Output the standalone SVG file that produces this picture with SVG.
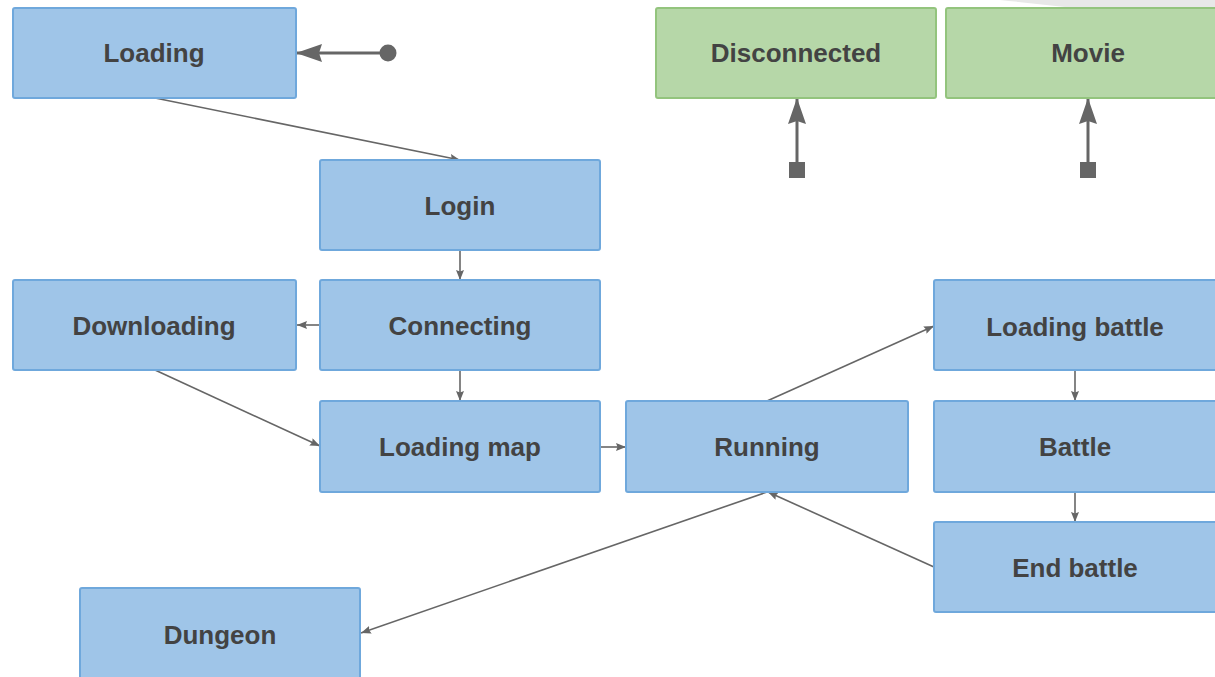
<svg xmlns="http://www.w3.org/2000/svg" width="1215" height="677" viewBox="0 0 1215 677">
  <style>
    .state rect { fill: #9fc5e8; stroke: #6fa8dc; stroke-width: 2; }
    .alt rect { fill: #b6d7a8; stroke: #93c47d; stroke-width: 2; }
    text { font-family: "Liberation Sans", Arial, sans-serif; font-weight: bold; font-size: 26px; fill: #434343; text-anchor: middle; }
    .edge { fill: none; stroke: #666666; stroke-width: 1.6; }
    .entry { fill: none; stroke: #666666; stroke-width: 3; }
  </style>
  <defs>
    <marker id="head" viewBox="0 0 10 8" refX="10" refY="4" markerWidth="10" markerHeight="8" markerUnits="userSpaceOnUse" orient="auto">
      <path d="M0,0 L10,4 L0,8 L1.5,4 z" fill="#666666"/>
    </marker>
    <marker id="bigHead" viewBox="0 0 26 18" refX="25" refY="9" markerWidth="26" markerHeight="18" markerUnits="userSpaceOnUse" orient="auto">
      <path d="M0,0 L26,9 L0,18 L3,9 z" fill="#666666"/>
    </marker>
    <marker id="dot" viewBox="0 0 18 18" refX="9" refY="9" markerWidth="18" markerHeight="18" markerUnits="userSpaceOnUse" orient="auto">
      <circle cx="9" cy="9" r="8.5" fill="#666666"/>
    </marker>
    <marker id="block" viewBox="0 0 16 16" refX="8" refY="8" markerWidth="16" markerHeight="16" markerUnits="userSpaceOnUse" orient="auto">
      <rect x="0" y="0" width="16" height="16" fill="#666666"/>
    </marker>
  </defs>

  <!-- faint backdrop in the upper right corner -->
  <path d="M1000,0 L1215,0 L1215,7 L1065,7 Q1030,3 1000,0 z" fill="#e8e8e8"/>

  <g id="connectors">
    <line class="entry" x1="388" y1="53" x2="297" y2="53" marker-start="url(#dot)" marker-end="url(#bigHead)"/>
    <line class="entry" x1="797" y1="170" x2="797" y2="99" marker-start="url(#block)" marker-end="url(#bigHead)"/>
    <line class="entry" x1="1088" y1="170" x2="1088" y2="99" marker-start="url(#block)" marker-end="url(#bigHead)"/>

    <line class="edge" x1="155" y1="98" x2="460" y2="160" marker-end="url(#head)"/>
    <line class="edge" x1="460" y1="250" x2="460" y2="280" marker-end="url(#head)"/>
    <line class="edge" x1="320" y1="325" x2="297" y2="325" marker-end="url(#head)"/>
    <line class="edge" x1="460" y1="370" x2="460" y2="401" marker-end="url(#head)"/>
    <line class="edge" x1="155" y1="370" x2="320" y2="446" marker-end="url(#head)"/>
    <line class="edge" x1="600" y1="447" x2="626" y2="447" marker-end="url(#head)"/>
    <line class="edge" x1="767" y1="401" x2="934" y2="326" marker-end="url(#head)"/>
    <line class="edge" x1="1075" y1="370" x2="1075" y2="401" marker-end="url(#head)"/>
    <line class="edge" x1="1075" y1="492" x2="1075" y2="522" marker-end="url(#head)"/>
    <line class="edge" x1="934" y1="567" x2="768" y2="492" marker-end="url(#head)"/>
    <line class="edge" x1="767" y1="492" x2="361" y2="633" marker-end="url(#head)"/>
  </g>

  <g id="loading" class="state">
    <rect x="13" y="8" width="283" height="90" rx="2"/>
    <text x="154" y="62">Loading</text>
  </g>
  <g id="login" class="state">
    <rect x="320" y="160" width="280" height="90" rx="2"/>
    <text x="460" y="215">Login</text>
  </g>
  <g id="downloading" class="state">
    <rect x="13" y="280" width="283" height="90" rx="2"/>
    <text x="154" y="335">Downloading</text>
  </g>
  <g id="connecting" class="state">
    <rect x="320" y="280" width="280" height="90" rx="2"/>
    <text x="460" y="335">Connecting</text>
  </g>
  <g id="loading-map" class="state">
    <rect x="320" y="401" width="280" height="91" rx="2"/>
    <text x="460" y="456">Loading map</text>
  </g>
  <g id="running" class="state">
    <rect x="626" y="401" width="282" height="91" rx="2"/>
    <text x="767" y="456">Running</text>
  </g>
  <g id="loading-battle" class="state">
    <rect x="934" y="280" width="290" height="90" rx="2"/>
    <text x="1075" y="336">Loading battle</text>
  </g>
  <g id="battle" class="state">
    <rect x="934" y="401" width="290" height="91" rx="2"/>
    <text x="1075" y="456">Battle</text>
  </g>
  <g id="end-battle" class="state">
    <rect x="934" y="522" width="290" height="90" rx="2"/>
    <text x="1075" y="577">End battle</text>
  </g>
  <g id="dungeon" class="state">
    <rect x="80" y="588" width="280" height="100" rx="2"/>
    <text x="220" y="644">Dungeon</text>
  </g>
  <g id="disconnected" class="alt">
    <rect x="656" y="8" width="280" height="90" rx="2"/>
    <text x="796" y="62">Disconnected</text>
  </g>
  <g id="movie" class="alt">
    <rect x="946" y="8" width="280" height="90" rx="2"/>
    <text x="1088" y="62">Movie</text>
  </g>
</svg>
